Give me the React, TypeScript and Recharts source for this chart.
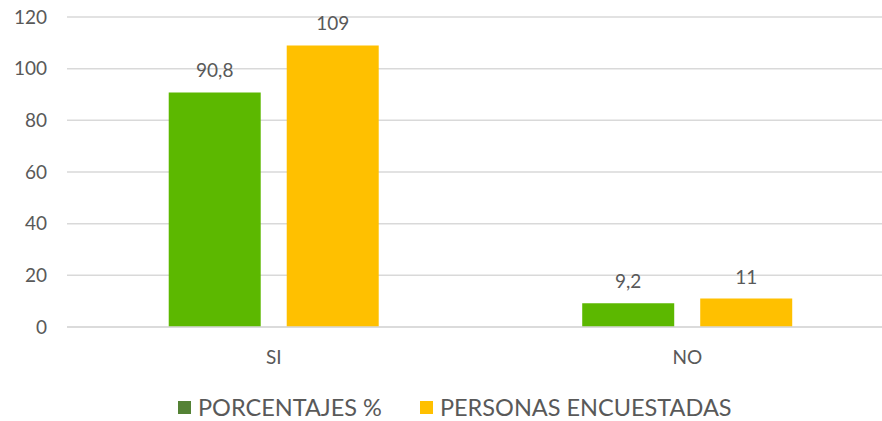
import React from 'react';
import { BarChart, Bar, XAxis, YAxis, CartesianGrid, LabelList } from 'recharts';

const categories = ['SI', 'NO'];
const porcentajes = [90.8, 9.2];
const personas = [109, 11];
const yTicks = [0, 20, 40, 60, 80, 100, 120];

const data = categories.map((c, i) => ({ name: c, porcentajes: porcentajes[i], personas: personas[i] }));

const FONT = 'Lato, "Open Sans", sans-serif';
const TEXT = '#595959';

const fmt = (v: any) => String(v).replace('.', ',');

const Legend2 = () => (
  <div style={{ position: 'absolute', left: 178, top: 392, display: 'flex', fontFamily: FONT, fontSize: 23.5, color: TEXT, lineHeight: '30px', whiteSpace: 'nowrap' }}>
    <div style={{ display: 'flex', alignItems: 'center', marginRight: 38 }}>
      <span style={{ display: 'inline-block', width: 13, height: 13, background: '#548235', marginRight: 7 }} />
      PORCENTAJES %
    </div>
    <div style={{ display: 'flex', alignItems: 'center' }}>
      <span style={{ display: 'inline-block', width: 13, height: 13, background: '#FFC000', marginRight: 7 }} />
      PERSONAS ENCUESTADAS
    </div>
  </div>
);

export default function App() {
  return (
    <div style={{ position: 'absolute', left: 0, top: 0, width: 882, height: 421, overflow: 'hidden', background: '#fff' }}>
      <BarChart
        width={894}
        height={421}
        data={data}
        margin={{ top: 17, right: 0, bottom: 64, left: 0 }}
        barCategoryGap="24.6%"
        barGap={26}
      >
        <CartesianGrid vertical={false} stroke="#d9d9d9" strokeWidth={1.5} />
        <XAxis
          dataKey="name"
          axisLine={{ stroke: '#d9d9d9', strokeWidth: 1.5 }}
          tickLine={false}
          tickMargin={18}
          tick={{ fill: TEXT, fontSize: 19, fontFamily: FONT }}
        />
        <YAxis
          width={67}
          domain={[0, 120]}
          ticks={yTicks}
          axisLine={false}
          tickLine={false}
          tickMargin={14}
          tick={{ fill: TEXT, fontSize: 19, fontFamily: FONT }}
        />
        <Bar dataKey="porcentajes" fill="#5CB800" isAnimationActive={false}>
          <LabelList dataKey="porcentajes" position="top" offset={15} formatter={fmt} style={{ fill: TEXT, fontSize: 19, fontFamily: FONT }} />
        </Bar>
        <Bar dataKey="personas" fill="#FFC000" isAnimationActive={false}>
          <LabelList dataKey="personas" position="top" offset={15} formatter={fmt} style={{ fill: TEXT, fontSize: 19, fontFamily: FONT }} />
        </Bar>
      </BarChart>
      <Legend2 />
    </div>
  );
}
